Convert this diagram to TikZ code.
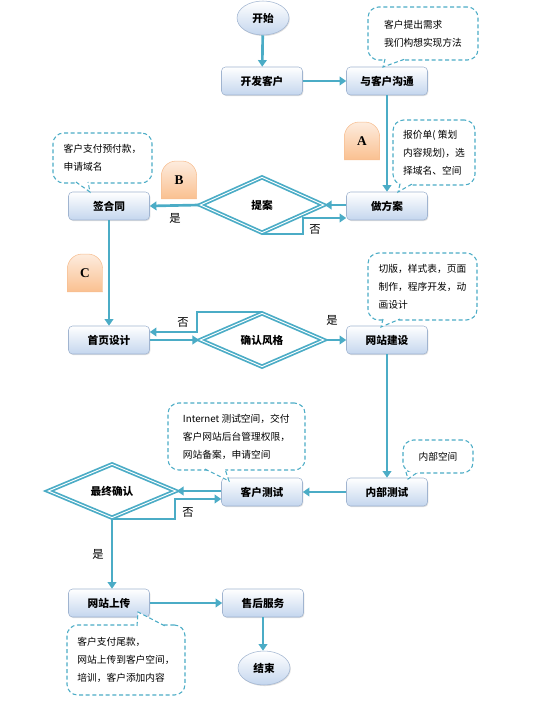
\documentclass[tikz,border=0pt]{standalone}
\usepackage{fontspec}
\setmainfont{Noto Sans CJK SC}
\newfontfamily\tabfont{Liberation Serif}
\usetikzlibrary{arrows.meta,positioning,shapes.geometric,shadows,backgrounds,calc}
\definecolor{lineblue}{RGB}{75,172,198}
\definecolor{boxbot}{RGB}{196,214,238}
\definecolor{boxedge}{RGB}{160,180,208}
\definecolor{tabtop}{RGB}{253,236,222}
\definecolor{tabbot}{RGB}{250,192,144}
\definecolor{tabedge}{RGB}{247,190,145}

\begin{document}
\begin{tikzpicture}[x=0.75pt, y=-0.75pt,
      box/.style={draw=boxedge, rounded corners=3pt, top color=white, bottom color=boxbot,
      minimum width=60.75pt, minimum height=21pt, font=\bfseries\fontsize{8}{10}\selectfont,
      drop shadow={shadow xshift=0.6pt, shadow yshift=-0.8pt, opacity=0.25}},
      term/.style={ellipse, draw=boxedge, top color=white, bottom color=boxbot, inner sep=0pt,
      minimum width=39pt, minimum height=25.5pt, font=\bfseries\fontsize{8}{10}\selectfont,
      drop shadow={shadow xshift=0.6pt, shadow yshift=-0.8pt, opacity=0.25}},
      decide/.style={diamond, draw=lineblue, line width=1.3pt, double=white, double distance=0.7pt,
      inner sep=0pt, minimum width=93pt, minimum height=42pt, font=\bfseries\fontsize{8}{10}\selectfont},
      note/.style={draw=lineblue, dash pattern=on 3pt off 2pt, line width=0.8pt, fill=white,
      rounded corners=8pt, align=left, font=\fontsize{7.3}{13.5}\selectfont},
      tail/.style={draw=lineblue, dash pattern=on 3pt off 2pt, line width=0.8pt, fill=white},
      tab/.style={minimum width=26pt, minimum height=28pt, inner sep=0pt,
      font=\tabfont\bfseries\fontsize{10}{12}\selectfont},
      tabfill/.style={top color=tabtop, bottom color=tabbot, draw=tabedge},
      lbl/.style={font=\fontsize{8.5}{10}\selectfont},
      arr/.style={-{Triangle[width=6.5pt,length=5pt]}, lineblue, line width=2pt}]
    \useasboundingbox (0,0) rectangle (552,705);

    % main flow
    \node[term] (start) at (263,18) {开始};
    \node[box] (kfkh) at (262,81) {开发客户};
    \node[box] (gt) at (387,81) {与客户沟通};
    \node[box] (zfa) at (387,206) {做方案};
    \node[decide] (ta) at (262,205) {提案};
    \node[box] (htq) at (109,206) {签合同};
    \node[box] (sysj) at (109,340) {首页设计};
    \node[decide, minimum height=40.5pt] (qrfg) at (262,340) {确认风格};
    \node[box] (wzjs) at (387,340) {网站建设};
    \node[box] (nbcs) at (387,492) {内部测试};
    \node[box] (khcs) at (262,492) {客户测试};
    \node[decide, minimum width=96pt, minimum height=40.5pt] (zzqr) at (112,491) {最终确认};
    \node[box] (wzsc) at (109,603) {网站上传};
    \node[box] (shfw) at (263,603) {售后服务};
    \node[term] (stop) at (264,668) {结束};

    % tabs
    \node[tab] (tabA) at (362,141) {A};
    \node[tab] (tabB) at (179,180) {B};
    \node[tab] (tabC) at (85,273) {C};
    \begin{scope}[on background layer]
      \foreach \t in {tabA,tabB,tabC}
        \shade[tabfill] (\t.south west) -- ([yshift=-11pt]\t.north west)
          arc[start angle=180, end angle=90, radius=11pt] -- ([xshift=-11pt]\t.north east)
          arc[start angle=90, end angle=0, radius=11pt] -- (\t.south east) -- cycle;
    \end{scope}

    % notes
    \node[note, minimum width=82.5pt, minimum height=39.75pt] (c1) at (423,33.5)
      {客户提出需求\\我们构想实现方法};
    \node[note, minimum width=61.5pt, minimum height=48.75pt] (c2) at (434,152.5)
      {报价单( 策划\\内容规划)，选\\择域名、空间};
    \node[note, minimum width=74.25pt, minimum height=37.5pt] (c3) at (102.5,158)
      {客户支付预付款，\\申请域名};
    \node[note, minimum width=81.75pt, minimum height=50.25pt] (c4) at (422.5,286.5)
      {切版，样式表，页面\\制作，程序开发，动\\画设计};
    \node[note, minimum width=52.5pt, minimum height=24.75pt] (c5) at (438,456.5)
      {内部空间};
    \node[note, minimum width=102.75pt, minimum height=50.25pt] (c6) at (236.5,436.5)
      {Internet 测试空间，交付\\客户网站后台管理权限，\\网站备案，申请空间};
    \node[note, minimum width=88.5pt, minimum height=52.5pt] (c7) at (126,660)
      {客户支付尾款，\\网站上传到客户空间，\\培训，客户添加内容};

    \coordinate (t1) at (383,67);
    \coordinate (t2) at (398,192);
    \coordinate (t3) at (90,192);
    \coordinate (t4) at (381,327);
    \coordinate (t5) at (408,479);
    \coordinate (t6) at (229,481);
    \coordinate (t7) at (138,612);
    \filldraw[tail] ($(c1.south)+(-38,-1.5)$) -- (t1) -- ($(c1.south)+(-18,-1.5)$);
    \filldraw[tail] ($(c2.south)+(-34,-1.5)$) -- (t2) -- ($(c2.south)+(-22,-1.5)$);
    \filldraw[tail] ($(c3.south)+(-26.5,-1.5)$) -- (t3) -- ($(c3.south)+(-14.5,-1.5)$);
    \filldraw[tail] ($(c4.south)+(-39.5,-1.5)$) -- (t4) -- ($(c4.south)+(-22.5,-1.5)$);
    \filldraw[tail] ($(c5.south)+(-32,-1.5)$) -- (t5) -- ($(c5.south)+(-20,-1.5)$);
    \filldraw[tail] ($(c6.south)+(-31.5,-1.5)$) -- (t6) -- ($(c6.south)+(-11.5,-1.5)$);
    \filldraw[tail] ($(c7.north)+(11,1.5)$) -- (t7) -- ($(c7.north)+(39,1.5)$);

    % connectors
    \draw[arr] (start) -- (kfkh);
    \draw[arr] (kfkh) -- (gt);
    \draw[arr] (gt) -- (zfa);
    \draw[arr] (zfa.west |- ta.east) -- (ta.east);
    \draw[arr] (ta.south) -- ++(41,0) |- ($(zfa.west)+(0,12)$);
    \draw[arr] (ta.west) -- (htq.east);
    \draw[arr] (htq) -- (sysj);
    \draw[arr] (sysj.east) -- (qrfg.west);
    \draw[arr] (qrfg.north) -- ++(-65,0) |- ($(sysj.east)+(0,-8)$);
    \draw[arr] (qrfg.east) -- (wzjs.west);
    \draw[arr] (wzjs) -- (nbcs);
    \draw[arr] (nbcs) -- (khcs);
    \draw[arr] (khcs.west |- zzqr.east) -- (zzqr.east);
    \draw[arr] (zzqr.south) -- ++(63,0) |- ($(khcs.west)+(0,7)$);
    \draw[arr] (zzqr.south) -- (zzqr.south |- wzsc.north);
    \draw[arr] (wzsc) -- (shfw);
    \draw[arr] (shfw.south) -- (shfw.south |- stop.north);

    % labels
    \node[lbl] (yes1) at (175,218) {是};
    \node[lbl] (no1) at (315,230) {否};
    \node[lbl] (no2) at (183,323) {否};
    \node[lbl] (yes2) at (332,320) {是};
    \node[lbl] (no3) at (188,513) {否};
    \node[lbl] (yes3) at (98,554) {是};
  \end{tikzpicture}
\end{document}
